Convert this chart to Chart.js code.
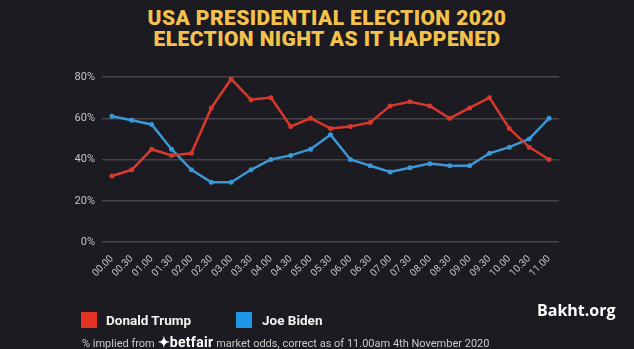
<!DOCTYPE html>
<html>
<head>
<meta charset="utf-8">
<script src="https://cdn.jsdelivr.net/npm/chart.js@4.4.0/dist/chart.umd.min.js"></script>
<style>
  html, body { margin: 0; padding: 0; background: #1c1b21; }
  body { width: 634px; height: 349px; position: relative; overflow: hidden; font-family: Roboto, "Open Sans", sans-serif; }
  .title { position: absolute; left: 10px; top: 8px; width: 634px; text-align: center; color: #f4c24c;
           font-family: Roboto, sans-serif; font-weight: 900; font-size: 21px; line-height: 21px; letter-spacing: 0.4px; }
  .chart-box { position: absolute; left: 0; top: 62px; width: 634px; height: 240px; }
  .legend { position: absolute; top: 312px; left: 81px; color: #f2f2f2; font-weight: bold; font-size: 13.5px; }
  .legend span.sw { position: absolute; top: 0; width: 16px; height: 16px; }
  .legend span.lb { position: absolute; top: 0; white-space: nowrap; }
  .note { position: absolute; left: 82px; top: 334px; color: #c9c9c9; font-size: 11px; white-space: nowrap; }
  .note b { color: #fff; font-size: 14px; letter-spacing: 0.3px; }
  .mark { position: absolute; left: 537px; top: 299px; color: #fff; font-family: "Open Sans", sans-serif; font-weight: bold; font-size: 16px; }
</style>
</head>
<body>
<div class="title">USA PRESIDENTIAL ELECTION 2020<br>ELECTION NIGHT AS IT HAPPENED</div>
<div class="chart-box"><canvas id="electionChart"></canvas></div>
<div class="legend">
  <span class="sw" style="left:0;background:#e53222"></span><span class="lb" style="left:25px">Donald Trump</span>
  <span class="sw" style="left:155px;background:#1f95e8"></span><span class="lb" style="left:181px">Joe Biden</span>
</div>
<div class="note">% implied from <b>&#x2726;betfair</b> market odds, correct as of 11.00am 4th November 2020</div>
<div class="mark">Bakht.org</div>
<script>
const times = ['00.00','00.30','01.00','01.30','02.00','02.30','03.00','03.30','04.00','04.30','05.00','05.30',
  '06.00','06.30','07.00','07.30','08.00','08.30','09.00','09.30','10.00','10.30','11.00'];
const trump = [32, 35, 45, 42, 43, 65, 79, 69, 70, 56, 60, 55, 56, 58, 66, 68, 66, 60, 65, 70, 55, 46, 40];
const biden = [61, 59, 57, 45, 35, 29, 29, 35, 40, 42, 45, 52, 40, 37, 34, 36, 38, 37, 37, 43, 46, 50, 60];
const yTicks = [0, 20, 40, 60, 80];

const trumpColor = '#d8392c';
const bidenColor = '#3a98d6';

const ctx = document.getElementById('electionChart').getContext('2d');
// eslint-disable-next-line
const chart = new Chart(ctx, {
  type: 'line',
  data: {
    labels: times,
    datasets: [
      { label: 'Donald Trump', data: trump, borderColor: trumpColor, backgroundColor: trumpColor,
        borderWidth: 2.5, pointRadius: 2.5, pointBorderWidth: 0, tension: 0 },
      { label: 'Joe Biden', data: biden, borderColor: bidenColor, backgroundColor: bidenColor,
        borderWidth: 2.5, pointRadius: 2.5, pointBorderWidth: 0, tension: 0 }
    ]
  },
  options: {
    responsive: true,
    maintainAspectRatio: false,
    animation: false,
    layout: { padding: { left: 62, right: 75, top: 15, bottom: 10 } },
    plugins: { legend: { display: false }, tooltip: { enabled: false } },
    scales: {
      x: {
        offset: true,
        grid: { display: false },
        border: { display: false },
        ticks: { color: '#c4c4c4', font: { size: 10, family: 'Roboto' }, minRotation: 45, maxRotation: 45, autoSkip: false, padding: 3 },
        afterFit: s => { s.height = 50; }
      },
      y: {
        min: 0, max: 80,
        afterBuildTicks: s => { s.ticks = yTicks.map(v => ({ value: v })); },
        grid: { color: '#45444a', lineWidth: 1.5, drawTicks: false },
        border: { display: false },
        ticks: { color: '#c4c4c4', font: { size: 11, family: 'Roboto' }, padding: 7, callback: v => v + '%' },
        afterFit: s => { s.width = 40; }
      }
    }
  }
});
</script>
</body>
</html>
